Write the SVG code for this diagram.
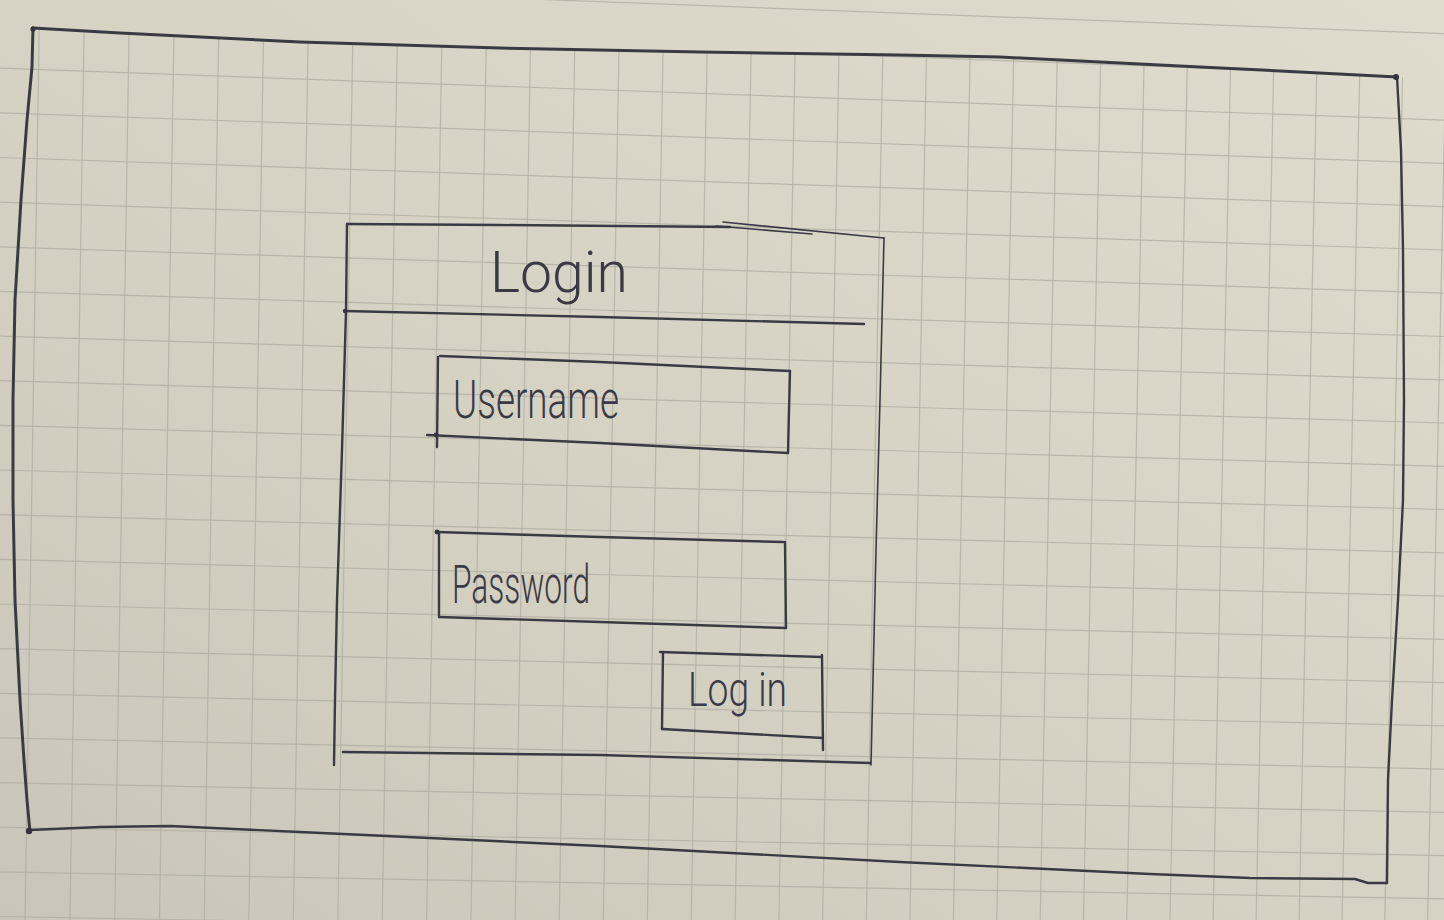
<svg xmlns="http://www.w3.org/2000/svg" width="1444" height="920" viewBox="0 0 1444 920">
  <defs>
    <linearGradient id="paperShade" x1="1" y1="0" x2="0" y2="1">
      <stop offset="0" stop-color="#e0dccd"/>
      <stop offset="0.55" stop-color="#d6d2c3"/>
      <stop offset="1" stop-color="#c9c6b9"/>
    </linearGradient>
    <!-- the squared ruling only starts under the top edge of the sheet's frame -->
    <clipPath id="belowTop">
      <polygon points="0,30 33,28 120,33 300,42 500,48 700,52 900,55 1000,57 1100,62 1200,67 1300,72 1397,77 1444,79 1444,920 0,920"/>
    </clipPath>
    <style>
      .rule { fill: none; stroke: #aeaca2; stroke-width: 1.2; opacity: 0.75; }
      .ink { fill: none; stroke: #3b3a44; stroke-linecap: round; stroke-linejoin: round; }
      .heavy { stroke-width: 3; }
      .pen { stroke-width: 2.4; }
      .thin { stroke-width: 1.6; }
      .dot { fill: #34333d; }
      .hand { fill: #3b3a44; font-family: Roboto, "Liberation Sans", sans-serif; font-weight: 300; }
    </style>
  </defs>

  <!-- sheet of squared paper -->
  <g id="paper">
    <rect x="0" y="0" width="1444" height="920" fill="url(#paperShade)"/>
    <path class="rule" d="M0,-21.1L1444,33.7"/>
    <g clip-path="url(#belowTop)">
      <path class="rule" d="M39.6,0L25,920 M84.6,0L69.9,920 M129.6,0L114.7,920 M174.5,0L159.5,920 M219.3,0L204.2,920 M264.1,0L248.8,920 M308.8,0L293.3,920 M353.5,0L337.8,920 M398,0L382.2,920 M442.6,0L426.6,920 M487,0L470.9,920 M531.3,0L515.1,920 M575.6,0L559.2,920 M619.9,0L603.3,920 M664,0L647.3,920 M708.1,0L691.2,920 M752.1,0L735.1,920 M796.1,0L778.9,920 M840,0L822.6,920 M883.8,0L866.3,920 M927.5,0L909.9,920 M971.2,0L953.4,920 M1014.8,0L996.8,920 M1058.4,0L1040.2,920 M1101.9,0L1083.5,920 M1145.3,0L1126.8,920 M1188.6,0L1170,920 M1231.9,0L1213.1,920 M1275.1,0L1256.1,920 M1318.2,0L1299.1,920 M1361.2,0L1342,920 M1404.2,0L1384.8,920 M1447.2,0L1427.6,920"/>
      <path class="rule" d="M0,23.6L1444,76.9 M0,68.2L1444,120.2 M0,112.8L1444,163.4 M0,157.5L1444,206.7 M0,202.1L1444,250 M0,246.8L1444,293.2 M0,291.4L1444,336.5 M0,336.1L1444,379.8 M0,380.7L1444,423 M0,425.4L1444,466.3 M0,470L1444,509.5 M0,514.7L1444,552.8 M0,559.3L1444,596.1 M0,604L1444,639.3 M0,648.6L1444,682.6 M0,693.3L1444,725.9 M0,737.9L1444,769.1 M0,782.6L1444,812.4 M0,827.2L1444,855.6 M0,871.9L1444,898.9 M0,916.5L1444,942.2"/>
    </g>
  </g>

  <!-- outer screen frame -->
  <g id="screen-frame">
    <path class="ink heavy" d="M33,28 L120,33 L300,42 L500,48 L700,52 L900,55 L1000,57 L1100,62 L1200,67 L1300,72 L1397,77"/>
    <path class="ink pen" d="M1397,77 L1401,150 L1403,250 L1404,400 L1403,500 L1398,600 L1392,700 L1388,780 L1387,883"/>
    <path class="ink pen" d="M30,830 L100,827 L170,826 L300,832 L600,846 L900,862 L1150,874 L1250,878 L1355,879 L1368,883 L1387,883"/>
    <path class="ink heavy" d="M30,832 L27,800 L24,760 L20,700 L15,600 L13,500 L13,400 L15,300 L21,200 L27,120 L32,67 L33,28"/>
    <circle class="dot" cx="33" cy="29" r="2.6"/>
    <circle class="dot" cx="1396" cy="77" r="3"/>
    <circle class="dot" cx="29" cy="831" r="3.2"/>
  </g>

  <!-- login dialog panel -->
  <g id="login-panel">
    <path class="ink pen" d="M347,224 L500,225 L730,227"/>
    <path class="ink thin" d="M716,226 L812,234"/>
    <path class="ink thin" d="M723,222 L884,238"/>
    <path class="ink thin" d="M884,238 L880,400 L876,550 L873,680 L871,765"/>
    <path class="ink pen" d="M343,752 L600,755 L870,763"/>
    <path class="ink pen" d="M347,224 L346,311 L342,450 L337,600 L335,700 L334,765"/>
    <path class="ink pen" d="M345,311 L600,317 L864,324"/>
    <circle class="dot" cx="345" cy="311" r="2.2"/>
  </g>

  <g id="panel-title">
    <text class="hand" x="490" y="292" font-size="58" textLength="138" lengthAdjust="spacingAndGlyphs">Login</text>
  </g>

  <!-- username input -->
  <g id="username-field">
    <path class="ink pen" d="M440,356 L600,362 L790,371"/>
    <path class="ink pen" d="M790,371 L789,410 L788,453"/>
    <path class="ink pen" d="M427,435 L600,443 L788,453"/>
    <path class="ink pen" d="M438,357 L437,447"/>
    <circle class="dot" cx="436" cy="435" r="2.4"/>
    <text class="hand" x="453" y="418" font-size="54" textLength="166" lengthAdjust="spacingAndGlyphs">Username</text>
  </g>

  <!-- password input -->
  <g id="password-field">
    <path class="ink pen" d="M437,532 L600,537 L783,542"/>
    <path class="ink pen" d="M785,542 L786,628"/>
    <path class="ink pen" d="M439,617 L600,622 L786,628"/>
    <path class="ink pen" d="M439,532 L439,617"/>
    <circle class="dot" cx="437" cy="532" r="2.4"/>
    <text class="hand" x="452" y="603" font-size="54" textLength="138" lengthAdjust="spacingAndGlyphs">Password</text>
  </g>

  <!-- submit button -->
  <g id="login-button">
    <path class="ink pen" d="M660,652 L822,657"/>
    <path class="ink pen" d="M663,652 L662,729"/>
    <path class="ink pen" d="M662,729 L823,738"/>
    <path class="ink pen" d="M822,655 L823,750"/>
    <text class="hand" x="688" y="706" font-size="48" textLength="99" lengthAdjust="spacingAndGlyphs">Log in</text>
  </g>
</svg>
